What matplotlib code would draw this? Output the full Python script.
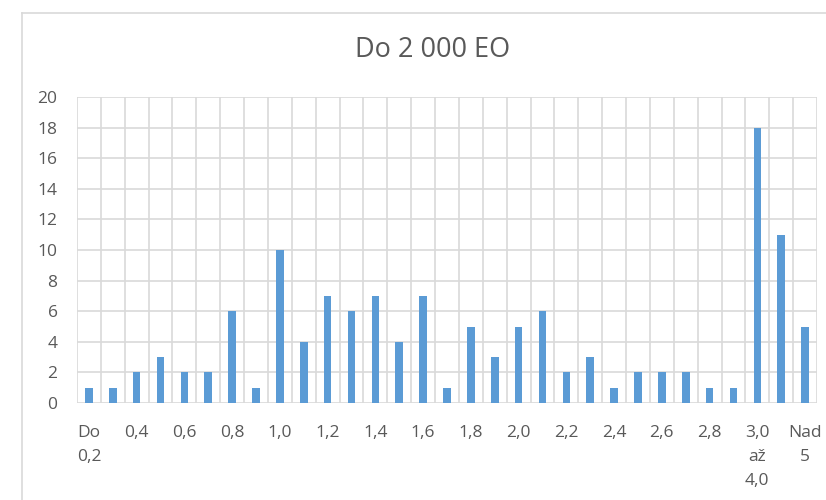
import matplotlib
matplotlib.use("Agg")
import matplotlib.pyplot as plt
from matplotlib.lines import Line2D
import numpy as np

plt.rcParams['font.family'] = ['Open Sans', 'DejaVu Sans']

title = "Do 2 000 EO"
categories = ["Do 0,2"] + [f"{v/10:.1f}".replace(".", ",") for v in range(3, 30)] + \
             ["3,0 až 4,0", "4,0 až 5,0", "Nad 5"]
values = [1, 1, 2, 3, 2, 2, 6, 1, 10, 4, 7, 6, 7, 4, 7, 1, 5, 3, 5, 6,
          2, 3, 1, 2, 2, 2, 1, 1, 18, 11, 5]
yticks = list(range(0, 21, 2))

bar_color = "#5B9BD5"
grid_color = "#D9D9D9"
text_color = "#595959"

fig = plt.figure(figsize=(8.26, 5.0), dpi=100)
ax = fig.add_axes([77/826, 1-403/500, (817-77)/826, (403-97)/500])

x = np.arange(len(categories))
ax.bar(x, values, width=0.32, color=bar_color, zorder=3)

ax.set_xlim(-0.5, len(categories) - 0.5)
ax.set_ylim(0, 20)
ax.set_yticks(yticks)
ax.set_yticklabels([str(t) for t in yticks])

# vertical gridlines at category boundaries
for b in np.arange(-0.5, len(categories), 1.0):
    ax.axvline(b, color=grid_color, lw=1.2, zorder=1)
for t in yticks:
    ax.axhline(t, color=grid_color, lw=1.2, zorder=1)

ax.set_xticks(x[::2])
ax.set_xticklabels([c.replace(" ", "\n") for c in categories[::2]],
                   linespacing=1.65, va="top")
ax.tick_params(axis="x", length=0, pad=16, labelsize=12.5, colors=text_color)
ax.tick_params(axis="y", length=0, pad=14, labelsize=12.5, colors=text_color)
for s in ax.spines.values():
    s.set_visible(False)

fig.text(433/826, 1-50/500, title, ha="center", va="center",
         fontsize=19.5, color=text_color)

# chart area border (cropped at right and bottom)
fig.add_artist(Line2D([22/826, 22/826], [0, 1-13/500], transform=fig.transFigure,
                      color=grid_color, lw=1.2))
fig.add_artist(Line2D([22/826, 1], [1-13/500, 1-13/500], transform=fig.transFigure,
                      color=grid_color, lw=1.2))

fig.savefig("out.png", dpi=100, facecolor="white")
